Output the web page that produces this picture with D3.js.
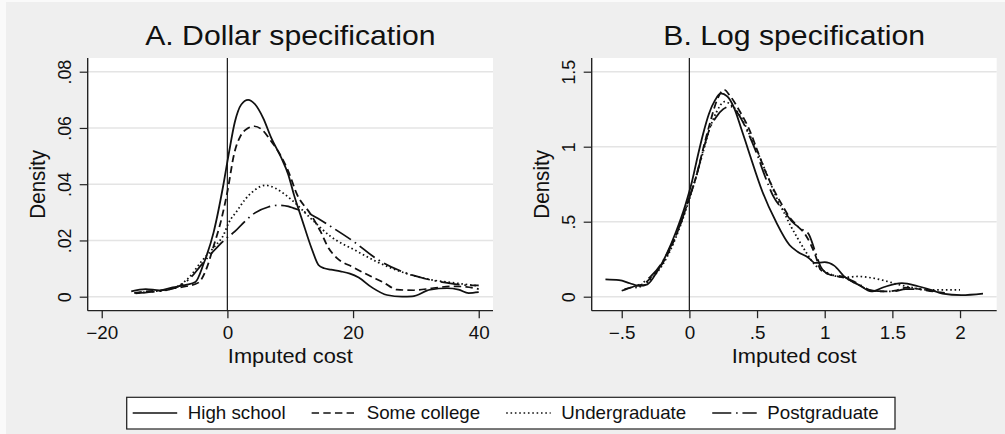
<!DOCTYPE html>
<html>
<head>
<meta charset="utf-8">
<script src="https://cdn.jsdelivr.net/npm/d3@7"></script>
<style>
  html, body { margin: 0; padding: 0; background: #fff; }
  svg { display: block; }
</style>
</head>
<body>
<div id="chart"></div>
<script>
// series names, in legend order
const educLevels = ["High school", "Some college", "Undergraduate", "Postgraduate"];

// panel A: dollar specification, [imputed cost, density]
const dollarHighSchool = [[-15.3,0.0019],[-13,0.0027],[-10.8,0.0023],[-8.7,0.0033],[-6.6,0.0042],[-5.1,0.0052],[-3.8,0.0116],[-2.2,0.0228],[-0.7,0.039],[0.2,0.0505],[1.2,0.0622],[2.2,0.0683],[3.3,0.0700],[4.4,0.0684],[5.7,0.0635],[7,0.0564],[8.6,0.0493],[9.7,0.0434],[10.6,0.0362],[11.9,0.0273],[13.5,0.0166],[14.5,0.0113],[15.4,0.0101],[16.5,0.0096],[18,0.009],[19.5,0.0082],[20.9,0.0068],[23,0.0033],[25.4,0.0006],[27.8,0],[29.4,0.0001],[32.3,0.0025],[35,0.003],[36.8,0.0025],[38.4,0.0013],[40,0.0016]];
const dollarSomeCollege = [[-14.8,0.0014],[-12.5,0.002],[-10.5,0.0022],[-8.5,0.003],[-6.5,0.0037],[-4.6,0.005],[-3.5,0.009],[-2.2,0.0179],[-0.9,0.028],[0,0.0373],[1.1,0.051],[2.1,0.0572],[3.2,0.0598],[4.3,0.0606],[5.5,0.0594],[6.8,0.0558],[8.4,0.0505],[9.7,0.0446],[11.1,0.0363],[13.2,0.0295],[14.8,0.0233],[16.1,0.0173],[17.4,0.0138],[20,0.0105],[22.5,0.0076],[24.9,0.005],[27,0.0025],[29.7,0.0023],[32.8,0.0031],[36,0.0037],[38,0.0035],[40,0.0027]];
const dollarUndergrad = [[-14.8,0.0013],[-12,0.0018],[-9.5,0.0025],[-7.5,0.0042],[-6.2,0.0066],[-4.1,0.0126],[-2,0.0179],[-0.6,0.022],[0.2,0.0262],[1.5,0.0304],[2.8,0.0345],[4.4,0.038],[6,0.0396],[7.6,0.0386],[9.2,0.0363],[10.5,0.0339],[13.2,0.028],[16.4,0.0215],[20.5,0.0163],[24,0.0122],[28,0.0086],[32.5,0.006],[36.5,0.0048],[40,0.0038]];
const dollarPostgrad = [[-14.6,0.0012],[-12,0.0017],[-9.5,0.0024],[-7.5,0.004],[-6.2,0.006],[-4.1,0.0114],[-2,0.0167],[-0.4,0.0203],[1.2,0.0232],[2.8,0.0268],[4.4,0.0298],[6.5,0.0319],[8.1,0.0325],[9.7,0.0321],[10.5,0.0315],[13.5,0.029],[16.7,0.0246],[20.1,0.0196],[23.8,0.0134],[27.5,0.0092],[31.5,0.0064],[35,0.0049],[38,0.0041],[40,0.004]];

// panel B: log specification
const logHighSchool = [[-0.62,0.115],[-0.52,0.11],[-0.44,0.09],[-0.37,0.072],[-0.31,0.082],[-0.24,0.165],[-0.165,0.29],[-0.1,0.43],[-0.03,0.61],[0.02,0.77],[0.06,0.93],[0.1,1.08],[0.145,1.22],[0.19,1.31],[0.232,1.355],[0.28,1.335],[0.33,1.26],[0.38,1.13],[0.44,0.965],[0.54,0.7],[0.64,0.5],[0.74,0.345],[0.8,0.3],[0.88,0.26],[0.93,0.225],[1.0,0.23],[1.07,0.207],[1.15,0.13],[1.25,0.08],[1.345,0.035],[1.44,0.065],[1.57,0.09],[1.69,0.07],[1.79,0.045],[1.87,0.02],[2.01,0.01],[2.17,0.02]];
const logSomeCollege = [[-0.48,0.05],[-0.4,0.07],[-0.33,0.09],[-0.27,0.14],[-0.2,0.22],[-0.13,0.34],[-0.06,0.5],[0,0.66],[0.05,0.8],[0.1,0.98],[0.15,1.15],[0.2,1.3],[0.255,1.38],[0.3,1.34],[0.37,1.24],[0.45,1.1],[0.5,0.98],[0.56,0.84],[0.62,0.72],[0.68,0.62],[0.74,0.53],[0.8,0.47],[0.86,0.41],[0.93,0.28],[0.97,0.18],[1.03,0.15],[1.15,0.125],[1.25,0.08],[1.35,0.04],[1.45,0.035],[1.52,0.04],[1.6,0.06],[1.7,0.05],[1.8,0.035],[1.9,0.025]];
const logUndergrad = [[-0.4,0.06],[-0.33,0.08],[-0.27,0.13],[-0.2,0.21],[-0.13,0.33],[-0.06,0.49],[0,0.65],[0.05,0.8],[0.1,0.96],[0.15,1.12],[0.2,1.23],[0.26,1.3],[0.32,1.27],[0.38,1.2],[0.45,1.07],[0.52,0.93],[0.58,0.8],[0.64,0.67],[0.7,0.56],[0.75,0.47],[0.8,0.39],[0.86,0.3],[0.93,0.21],[1.0,0.17],[1.07,0.14],[1.15,0.13],[1.25,0.135],[1.35,0.125],[1.45,0.105],[1.55,0.08],[1.65,0.06],[1.77,0.045],[1.9,0.045],[2.0,0.045]];
const logPostgrad = [[-0.5,0.04],[-0.42,0.065],[-0.35,0.09],[-0.28,0.14],[-0.2,0.23],[-0.13,0.35],[-0.06,0.5],[0,0.66],[0.05,0.8],[0.1,0.97],[0.15,1.12],[0.2,1.2],[0.25,1.25],[0.3,1.27],[0.36,1.22],[0.43,1.1],[0.5,0.95],[0.56,0.8],[0.62,0.67],[0.7,0.57],[0.76,0.5],[0.83,0.45],[0.88,0.42],[0.93,0.3],[0.97,0.2],[1.03,0.15],[1.15,0.13],[1.25,0.085],[1.35,0.04],[1.5,0.035],[1.6,0.05],[1.7,0.05],[1.82,0.035]];

// ticks
const dollarXTicks = [-20, 0, 20, 40];
const dollarXLabels = ["\u221220", "0", "20", "40"];
const dollarYTicks = [0, 0.02, 0.04, 0.06, 0.08];
const dollarYLabels = ["0", ".02", ".04", ".06", ".08"];
const logXTicks = [-0.5, 0, 0.5, 1, 1.5, 2];
const logXLabels = ["\u2212.5", "0", ".5", "1", "1.5", "2"];
const logYTicks = [0, 0.5, 1, 1.5];
const logYLabels = ["0", ".5", "1", "1.5"];

// the original is a little wider than tall, so the drawing is stretched on x
const SX = 1.06;
const X = px => px / SX;
const W = 1005 / SX, H = 434;
const FONT = "'Liberation Sans', Arial, Helvetica, sans-serif";
const INK = "#111";
const TOP = 58, AXIS_Y = 310.7;

const dashes = [null, "7 4", "1.5 2.6", "18 4.5 1.5 4.5"];

const svg = d3.select("#chart").append("svg")
    .attr("width", 1005)
    .attr("height", H)
    .attr("viewBox", `0 0 ${W} ${H}`)
    .attr("preserveAspectRatio", "none")
    .style("font-family", FONT);

svg.append("rect").attr("width", W).attr("height", H).attr("fill", "#fafafa");
svg.append("rect").attr("x", X(6)).attr("y", 2).attr("width", W - X(6)).attr("height", H - 2).attr("fill", "#efefef");

const panels = [
    {
        title: "A. Dollar specification",
        left: X(87.7), right: X(493),
        xDomain: [-20, 40], xRange: [X(101.7), X(478.7)],
        yDomain: [0, 0.08],
        xTicks: dollarXTicks, xLabels: dollarXLabels,
        yTicks: dollarYTicks, yLabels: dollarYLabels,
        series: [dollarHighSchool, dollarSomeCollege, dollarUndergrad, dollarPostgrad]
    },
    {
        title: "B. Log specification",
        left: X(591.7), right: X(996.7),
        xDomain: [-0.5, 2], xRange: [X(621.7), X(960)],
        yDomain: [0, 1.5],
        xTicks: logXTicks, xLabels: logXLabels,
        yTicks: logYTicks, yLabels: logYLabels,
        series: [logHighSchool, logSomeCollege, logUndergrad, logPostgrad]
    }
];

panels.forEach(drawPanel);

function drawPanel(p){
    const g = svg.append("g");
    const x = d3.scaleLinear().domain(p.xDomain).range(p.xRange);
    const y = d3.scaleLinear().domain(p.yDomain).range([296.7, 71.7]);
    const mid = (p.left + p.right) / 2;

    g.append("rect")
        .attr("x", p.left).attr("y", TOP)
        .attr("width", p.right - p.left).attr("height", AXIS_Y - TOP)
        .attr("fill", "#fff");

    g.append("g").selectAll("line")
        .data(p.yTicks)
        .join("line")
        .attr("x1", p.left).attr("x2", p.right)
        .attr("y1", d => y(d)).attr("y2", d => y(d))
        .attr("stroke", "#e4e4e4")
        .attr("stroke-width", 1.6);

    g.append("line")
        .attr("x1", x(0)).attr("x2", x(0))
        .attr("y1", TOP).attr("y2", AXIS_Y)
        .attr("stroke", "#222")
        .attr("stroke-width", 1.2);

    const line = d3.line()
        .x(d => x(d[0]))
        .y(d => y(d[1]))
        .curve(d3.curveMonotoneX);

    p.series.forEach((s, i) => {
        g.append("path")
            .datum(s)
            .attr("d", line)
            .attr("fill", "none")
            .attr("stroke", INK)
            .attr("stroke-width", 1.7)
            .attr("stroke-linejoin", "round")
            .attr("stroke-dasharray", dashes[i]);
    });

    // x axis
    const xa = g.append("g")
        .attr("transform", `translate(0,${AXIS_Y})`)
        .call(d3.axisBottom(x).tickValues(p.xTicks).tickFormat((d, i) => p.xLabels[i]).tickSize(7.5));
    xa.select(".domain").remove();
    xa.selectAll(".tick line").attr("stroke", "#222").attr("stroke-width", 1.2);
    xa.selectAll(".tick text")
        .attr("y", 28.8).attr("dy", null)
        .attr("fill", INK)
        .attr("font-size", 17.8)
        .attr("font-family", FONT);
    g.append("line")
        .attr("x1", p.left).attr("x2", p.right)
        .attr("y1", AXIS_Y).attr("y2", AXIS_Y)
        .attr("stroke", "#222").attr("stroke-width", 1.3);

    // y axis
    const ya = g.append("g")
        .attr("transform", `translate(${p.left},0)`)
        .call(d3.axisLeft(y).tickValues(p.yTicks).tickFormat((d, i) => p.yLabels[i]).tickSize(X(8)));
    ya.select(".domain").remove();
    ya.selectAll(".tick line").attr("stroke", "#222").attr("stroke-width", 1.2);
    ya.selectAll(".tick text")
        .attr("x", null).attr("dy", null)
        .attr("text-anchor", "middle")
        .attr("transform", `translate(${-X(17)},0) rotate(-90)`)
        .attr("fill", INK)
        .attr("font-size", 17.8)
        .attr("font-family", FONT);
    g.append("line")
        .attr("x1", p.left).attr("x2", p.left)
        .attr("y1", TOP).attr("y2", AXIS_Y)
        .attr("stroke", "#222").attr("stroke-width", 1.3);

    // titles
    g.append("text")
        .attr("x", mid).attr("y", 45)
        .attr("text-anchor", "middle")
        .attr("font-size", 28.5)
        .attr("fill", INK)
        .text(p.title);
    g.append("text")
        .attr("x", mid).attr("y", 363.3)
        .attr("text-anchor", "middle")
        .attr("font-size", 20.6)
        .attr("fill", INK)
        .text("Imputed cost");
    g.append("text")
        .attr("transform", `translate(${p.left - X(42.7)},${(TOP + AXIS_Y) / 2}) rotate(-90)`)
        .attr("text-anchor", "middle")
        .attr("font-size", 20.6)
        .attr("fill", INK)
        .text("Density");
}

// legend
const legend = svg.append("g");
legend.append("rect")
    .attr("x", X(126.7)).attr("y", 397.3)
    .attr("width", X(895) - X(126.7)).attr("height", 31.7)
    .attr("fill", "#fff")
    .attr("stroke", "#222")
    .attr("stroke-width", 1.2);

let cursor = X(132.7);
educLevels.forEach((name, i) => {
    legend.append("line")
        .attr("x1", cursor).attr("x2", cursor + X(44.5))
        .attr("y1", 413).attr("y2", 413)
        .attr("stroke", INK)
        .attr("stroke-width", 1.7)
        .attr("stroke-dasharray", dashes[i]);
    const t = legend.append("text")
        .attr("x", cursor + X(55))
        .attr("y", 419.3)
        .attr("font-size", 17.7)
        .attr("fill", INK)
        .text(name);
    cursor = cursor + X(55) + t.node().getComputedTextLength() + X(26);
});
</script>
</body>
</html>
